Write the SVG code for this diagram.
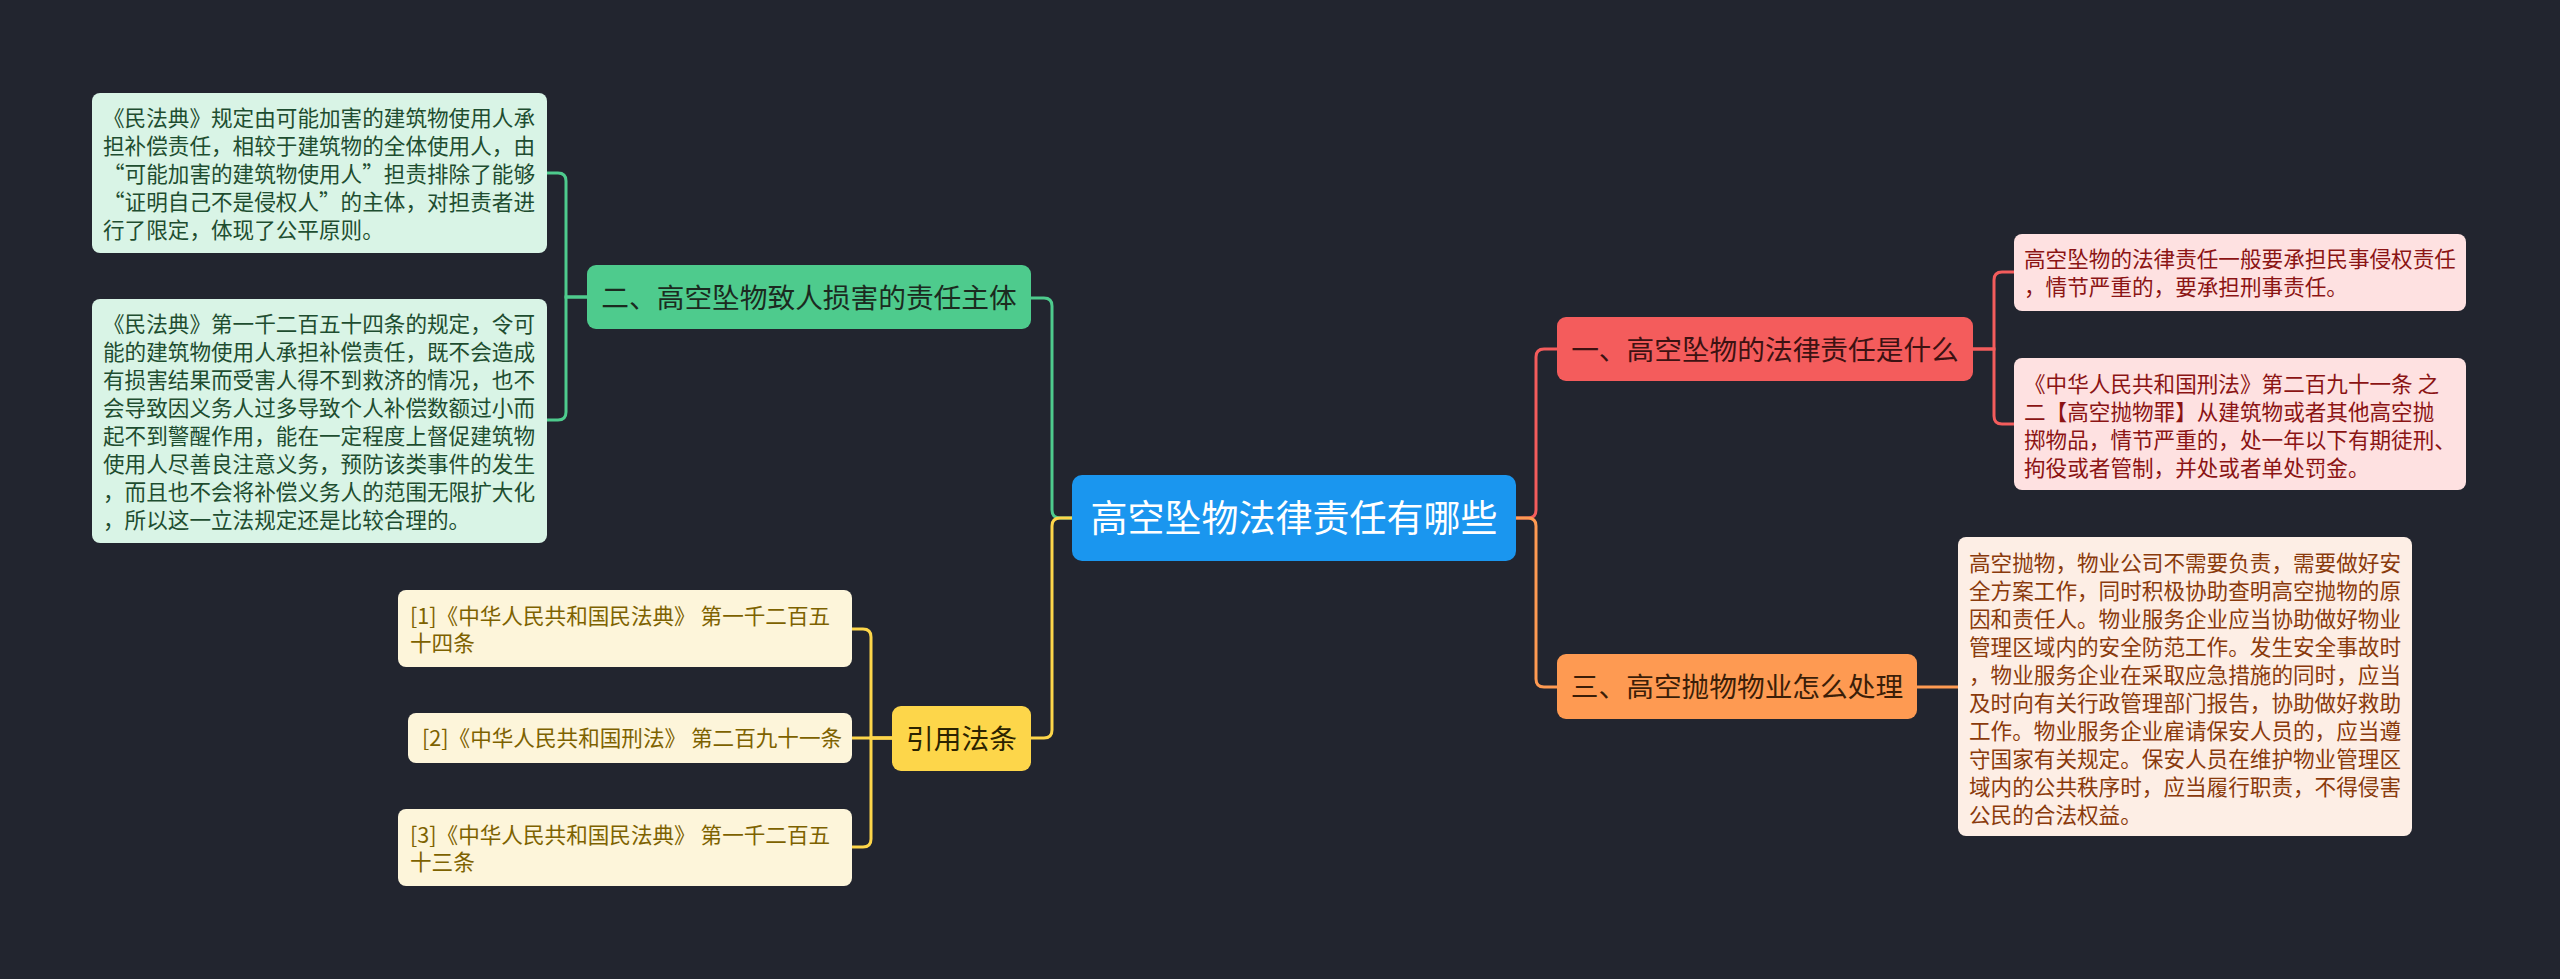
<svg xmlns="http://www.w3.org/2000/svg" width="2560" height="979" viewBox="0 0 2560 979">
<style>
text{font-family:"Noto Sans CJK SC","Noto Sans",sans-serif;}
.leaf{font-size:21.6px;}
.node{font-size:27.7px;text-anchor:middle;}
.root{font-size:37px;text-anchor:middle;fill:#ffffff;}
.ln{fill:none;stroke-width:3;}
.g{stroke:#4ecb8d;} .y{stroke:#fdd64a;} .r{stroke:#f45c5c;} .o{stroke:#fe9a52;}
.gl{fill:#d9f4e6;} .gt{fill:#1e4d30;}
.yl{fill:#fdf5da;} .yt{fill:#7d6200;}
.rl{fill:#fee1e1;} .rt{fill:#8b1414;}
.ol{fill:#fdeee5;} .ot{fill:#8a3a0c;}
</style>
<rect x="0" y="0" width="2560" height="979" fill="#22252f"/>
<g id="connectors">
<path class="ln g" d="M1072,518 H1060 Q1052,518 1052,510 V306 Q1052,298 1044,298 H1031"/>
<path class="ln y" d="M1072,518 H1060 Q1052,518 1052,526 V730 Q1052,738 1044,738 H1031"/>
<path class="ln r" d="M1516,518 H1528 Q1536,518 1536,510 V357 Q1536,349 1544,349 H1557"/>
<path class="ln o" d="M1516,518 H1528 Q1536,518 1536,526 V679 Q1536,687 1544,687 H1557"/>
<path class="ln g" d="M587,297 H566 V181 Q566,173 558,173 H547"/>
<path class="ln g" d="M587,297 H566 V412 Q566,420 558,420 H547"/>
<path class="ln y" d="M892,738 H871 V637 Q871,629 863,629 H852"/>
<path class="ln y" d="M892,738 H852"/>
<path class="ln y" d="M892,738 H871 V839 Q871,847 863,847 H852"/>
<path class="ln r" d="M1973,349 H1994 V280 Q1994,272 2002,272 H2014"/>
<path class="ln r" d="M1973,349 H1994 V416 Q1994,424 2002,424 H2014"/>
<path class="ln o" d="M1917,687 H1958"/>
</g>
<g id="root">
<rect x="1072" y="475" width="444" height="86" rx="10" fill="#1a96ef"/>
<text class="root" x="1294" y="532">高空坠物法律责任有哪些</text>
</g>
<g id="n2">
<rect x="587" y="265" width="444" height="64" rx="9" fill="#4ecb8d"/>
<text class="node" x="809" y="308" fill="#1b2a20">二、高空坠物致人损害的责任主体</text>
</g>
<g id="n2a">
<rect class="gl" x="92" y="93" width="455" height="160" rx="8"/>
<text class="leaf gt">
<tspan x="103" y="126" textLength="432" lengthAdjust="spacing">《民法典》规定由可能加害的建筑物使用人承</tspan>
<tspan x="103" y="154" textLength="432" lengthAdjust="spacing">担补偿责任，相较于建筑物的全体使用人，由</tspan>
<tspan x="103" y="182" textLength="432" lengthAdjust="spacing">“可能加害的建筑物使用人”担责排除了能够</tspan>
<tspan x="103" y="210" textLength="432" lengthAdjust="spacing">“证明自己不是侵权人”的主体，对担责者进</tspan>
<tspan x="103" y="238">行了限定，体现了公平原则。</tspan>
</text>
</g>
<g id="n2b">
<rect class="gl" x="92" y="299" width="455" height="244" rx="8"/>
<text class="leaf gt">
<tspan x="103" y="332" textLength="432" lengthAdjust="spacing">《民法典》第一千二百五十四条的规定，令可</tspan>
<tspan x="103" y="360" textLength="432" lengthAdjust="spacing">能的建筑物使用人承担补偿责任，既不会造成</tspan>
<tspan x="103" y="388" textLength="432" lengthAdjust="spacing">有损害结果而受害人得不到救济的情况，也不</tspan>
<tspan x="103" y="416" textLength="432" lengthAdjust="spacing">会导致因义务人过多导致个人补偿数额过小而</tspan>
<tspan x="103" y="444" textLength="432" lengthAdjust="spacing">起不到警醒作用，能在一定程度上督促建筑物</tspan>
<tspan x="103" y="472" textLength="432" lengthAdjust="spacing">使用人尽善良注意义务，预防该类事件的发生</tspan>
<tspan x="103" y="500" textLength="432" lengthAdjust="spacing">，而且也不会将补偿义务人的范围无限扩大化</tspan>
<tspan x="103" y="528">，所以这一立法规定还是比较合理的。</tspan>
</text>
</g>
<g id="n4">
<rect x="892" y="706" width="139" height="65" rx="9" fill="#fdd64a"/>
<text class="node" x="961.5" y="749" fill="#2b2300">引用法条</text>
</g>
<g id="n4a">
<rect class="yl" x="398" y="590" width="454" height="77" rx="8"/>
<text class="leaf yt">
<tspan x="410" y="624">[1]《中华人民共和国民法典》 第一千二百五</tspan>
<tspan x="410" y="651">十四条</tspan>
</text>
</g>
<g id="n4b">
<rect class="yl" x="408" y="713" width="444" height="50" rx="8"/>
<text class="leaf yt"><tspan x="422" y="746">[2]《中华人民共和国刑法》 第二百九十一条</tspan></text>
</g>
<g id="n4c">
<rect class="yl" x="398" y="809" width="454" height="77" rx="8"/>
<text class="leaf yt">
<tspan x="410" y="843">[3]《中华人民共和国民法典》 第一千二百五</tspan>
<tspan x="410" y="870">十三条</tspan>
</text>
</g>
<g id="n1">
<rect x="1557" y="317" width="416" height="64" rx="9" fill="#f45c5c"/>
<text class="node" x="1765" y="360" fill="#3d1212">一、高空坠物的法律责任是什么</text>
</g>
<g id="n1a">
<rect class="rl" x="2014" y="234" width="452" height="77" rx="8"/>
<text class="leaf rt">
<tspan x="2024" y="267">高空坠物的法律责任一般要承担民事侵权责任</tspan>
<tspan x="2024" y="295">，情节严重的，要承担刑事责任。</tspan>
</text>
</g>
<g id="n1b">
<rect class="rl" x="2014" y="358" width="452" height="132" rx="8"/>
<text class="leaf rt">
<tspan x="2024" y="392">《中华人民共和国刑法》第二百九十一条 之</tspan>
<tspan x="2024" y="420">二【高空抛物罪】从建筑物或者其他高空抛</tspan>
<tspan x="2024" y="448">掷物品，情节严重的，处一年以下有期徒刑、</tspan>
<tspan x="2024" y="476">拘役或者管制，并处或者单处罚金。</tspan>
</text>
</g>
<g id="n3">
<rect x="1557" y="654" width="360" height="65" rx="9" fill="#fe9a52"/>
<text class="node" x="1737" y="697" fill="#3b1e08">三、高空抛物物业怎么处理</text>
</g>
<g id="n3a">
<rect class="ol" x="1958" y="537" width="454" height="299" rx="8"/>
<text class="leaf ot">
<tspan x="1969" y="571" textLength="432" lengthAdjust="spacing">高空抛物，物业公司不需要负责，需要做好安</tspan>
<tspan x="1969" y="599" textLength="432" lengthAdjust="spacing">全方案工作，同时积极协助查明高空抛物的原</tspan>
<tspan x="1969" y="627" textLength="432" lengthAdjust="spacing">因和责任人。物业服务企业应当协助做好物业</tspan>
<tspan x="1969" y="655" textLength="432" lengthAdjust="spacing">管理区域内的安全防范工作。发生安全事故时</tspan>
<tspan x="1969" y="683" textLength="432" lengthAdjust="spacing">，物业服务企业在采取应急措施的同时，应当</tspan>
<tspan x="1969" y="711" textLength="432" lengthAdjust="spacing">及时向有关行政管理部门报告，协助做好救助</tspan>
<tspan x="1969" y="739" textLength="432" lengthAdjust="spacing">工作。物业服务企业雇请保安人员的，应当遵</tspan>
<tspan x="1969" y="767" textLength="432" lengthAdjust="spacing">守国家有关规定。保安人员在维护物业管理区</tspan>
<tspan x="1969" y="795" textLength="432" lengthAdjust="spacing">域内的公共秩序时，应当履行职责，不得侵害</tspan>
<tspan x="1969" y="823">公民的合法权益。</tspan>
</text>
</g>
</svg>
